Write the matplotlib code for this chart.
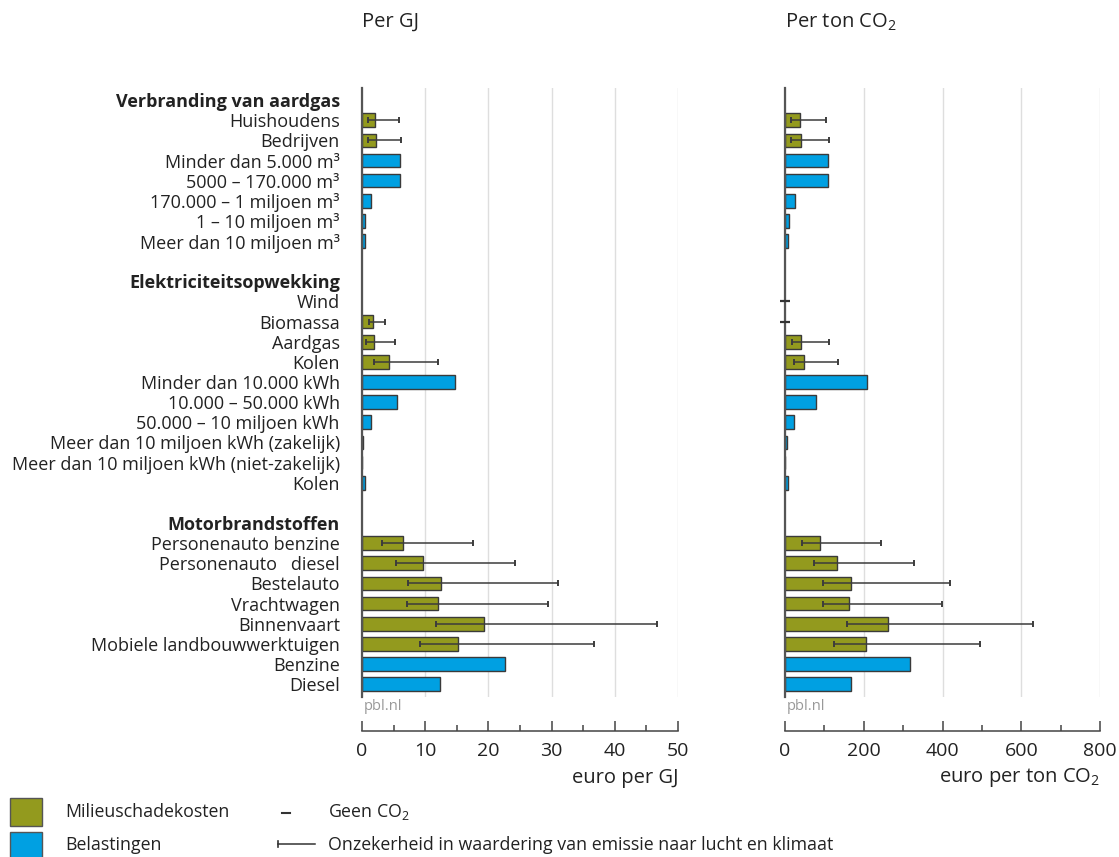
import numpy as np
import matplotlib.pyplot as plt
from matplotlib.patches import Rectangle
from matplotlib.ticker import MultipleLocator

plt.rcParams['font.family'] = ['Open Sans', 'DejaVu Sans']
plt.rcParams['mathtext.fontset'] = 'custom'
plt.rcParams['mathtext.rm'] = 'Open Sans'

_ = np.nan

rows = ['Verbranding van aardgas', 'Huishoudens', 'Bedrijven',
        'Minder dan 5.000 m³', '5000 – 170.000 m³', '170.000 – 1 miljoen m³',
        '1 – 10 miljoen m³', 'Meer dan 10 miljoen m³', '',
        'Elektriciteitsopwekking', 'Wind', 'Biomassa', 'Aardgas', 'Kolen',
        'Minder dan 10.000 kWh', '10.000 – 50.000 kWh', '50.000 – 10 miljoen kWh',
        'Meer dan 10 miljoen kWh (zakelijk)', 'Meer dan 10 miljoen kWh (niet-zakelijk)',
        'Kolen', '',
        'Motorbrandstoffen', 'Personenauto benzine', 'Personenauto   diesel',
        'Bestelauto', 'Vrachtwagen', 'Binnenvaart', 'Mobiele landbouwwerktuigen',
        'Benzine', 'Diesel']
headers = ['Verbranding van aardgas', 'Elektriciteitsopwekking', 'Motorbrandstoffen']

# euro per GJ
schade_gj = [_, 2.0, 2.2, _, _, _, _, _, _,
             _, _, 1.7, 1.9, 4.3, _, _, _, _, _, _, _,
             _, 6.45, 9.65, 12.45, 12.1, 19.35, 15.2, _, _]
schade_gj_laag = [_, 0.95, 0.95, _, _, _, _, _, _,
                  _, _, 1.1, 0.6, 1.85, _, _, _, _, _, _, _,
                  _, 3.1, 5.4, 7.2, 7.05, 11.7, 9.2, _, _]
schade_gj_hoog = [_, 5.85, 6.2, _, _, _, _, _, _,
                  _, _, 3.6, 5.3, 12.0, _, _, _, _, _, _, _,
                  _, 17.6, 24.2, 31.0, 29.5, 46.6, 36.7, _, _]
belasting_gj = [_, _, _, 6.0, 6.0, 1.4, 0.55, 0.4, _,
                _, _, _, _, _, 14.7, 5.5, 1.4, 0.15, 0.05, 0.5, _,
                _, _, _, _, _, _, _, 22.7, 12.3]

# euro per ton CO2
schade_co2 = [_, 37, 40, _, _, _, _, _, _,
              _, _, _, 40, 48, _, _, _, _, _, _, _,
              _, 90, 131, 168, 163, 262, 206, _, _]
schade_co2_laag = [_, 15, 16, _, _, _, _, _, _,
                   _, _, _, 17, 22, _, _, _, _, _, _, _,
                   _, 44, 74, 97, 97, 158, 124, _, _]
schade_co2_hoog = [_, 105, 112, _, _, _, _, _, _,
                   _, _, _, 112, 134, _, _, _, _, _, _, _,
                   _, 244, 327, 419, 399, 630, 496, _, _]
belasting_co2 = [_, _, _, 109, 109, 26, 10, 8, _,
                 _, _, _, _, _, 208, 78, 22, 4, 1, 7, _,
                 _, _, _, _, _, _, _, 317, 168]
geen_co2 = ['Wind', 'Biomassa']

GREEN = '#939a1e'
BLUE = '#00a0e2'
EDGE = '#3a3a3a'
TXT = '#222222'
FS = 13

fig = plt.figure(figsize=(11.19, 8.57), dpi=100)
W, H = 1119, 857


def px_axes(x0, x1, y0, y1):
    return fig.add_axes([x0 / W, 1 - y1 / H, (x1 - x0) / W, (y1 - y0) / H])


def draw_panel(ax, schade, laag, hoog, belasting, xmax, step, unit):
    y = np.arange(len(rows))
    schade = np.array(schade, float)
    belasting = np.array(belasting, float)
    laag = np.array(laag, float)
    hoog = np.array(hoog, float)

    ax.barh(y, schade, height=0.68, color=GREEN, edgecolor=EDGE, linewidth=1, zorder=2)
    ax.barh(y, belasting, height=0.68, color=BLUE, edgecolor=EDGE, linewidth=1, zorder=2)
    ok = ~np.isnan(schade)
    ax.errorbar(schade[ok], y[ok], xerr=[schade[ok] - laag[ok], hoog[ok] - schade[ok]],
                fmt='none', ecolor='#3c3c3c', elinewidth=1.1, capsize=2.2,
                capthick=1.4, zorder=3)

    ax.set_xlim(0, xmax)
    ax.set_ylim(len(rows) - 0.36, -0.6)
    ax.xaxis.set_major_locator(MultipleLocator(step))
    ax.xaxis.set_minor_locator(MultipleLocator(step / 2))
    ax.grid(axis='x', color='#dedede', linewidth=1)
    ax.set_axisbelow(True)

    for s in ['top', 'right']:
        ax.spines[s].set_visible(False)
    ax.spines['left'].set_color('#555555')
    ax.spines['left'].set_linewidth(1.6)
    ax.spines['bottom'].set_position(('outward', 24.5))
    ax.spines['bottom'].set_color('#444444')
    ax.spines['bottom'].set_linewidth(1.1)
    ax.tick_params(axis='x', which='major', direction='in', length=7.5, width=1.1,
                   color='#444444', labelsize=14, pad=8, labelcolor=TXT)
    ax.tick_params(axis='x', which='minor', direction='in', length=4, width=1.1,
                   color='#444444')
    ax.tick_params(axis='y', length=0)

    ax.text(0.005, -0.015, 'pbl.nl', transform=ax.transAxes, ha='left', va='center',
            fontsize=10.5, color='#999999')
    ax.text(1, -0.133, unit, transform=ax.transAxes, ha='right', va='center',
            fontsize=14.5, color=TXT)


ax1 = px_axes(362, 678, 88, 697)
draw_panel(ax1, schade_gj, schade_gj_laag, schade_gj_hoog, belasting_gj,
           50, 10, 'euro per GJ')
ax1.set_yticks(np.arange(len(rows)))
ax1.set_yticklabels(rows, fontsize=FS, color=TXT)
ax1.tick_params(axis='y', pad=16)
for lab in ax1.get_yticklabels():
    if lab.get_text() in headers:
        lab.set_fontweight('bold')

ax2 = px_axes(785, 1100, 88, 697)
draw_panel(ax2, schade_co2, schade_co2_laag, schade_co2_hoog, belasting_co2,
           800, 200, r'euro per ton CO$_2$')
ax2.set_yticks([])
for name in geen_co2:
    ax2.plot([0], [rows.index(name)], marker='_', ms=7, mew=1.6, color='#333333',
             clip_on=False, zorder=4)

fig.text(362 / W, 1 - 22 / H, 'Per GJ', ha='left', va='center', fontsize=14.5, color=TXT)
fig.text(785 / W, 1 - 22 / H, r'Per ton CO$_2$', ha='left', va='center', fontsize=14.5,
         color=TXT)

# legend drawn in pixel space along the bottom
leg = fig.add_axes([0, 0, 1, 1], zorder=-1)
leg.set_xlim(0, W)
leg.set_ylim(H, 0)
leg.axis('off')
leg.add_patch(Rectangle((10, 798), 32, 28, facecolor=GREEN, edgecolor='#555555', lw=1))
leg.add_patch(Rectangle((10, 832), 32, 28, facecolor=BLUE, edgecolor='#555555', lw=1))
leg.text(65, 812, 'Milieuschadekosten', va='center', fontsize=12.8, color=TXT)
leg.text(65, 845, 'Belastingen', va='center', fontsize=12.8, color=TXT)
leg.plot([282, 290], [813, 813], color='#333333', lw=1.5)
leg.text(328, 812, r'Geen CO$_2$', va='center', fontsize=12.8, color=TXT)
leg.plot([278, 315], [844, 844], color='#333333', lw=1.1)
leg.plot([278, 278], [841, 847], color='#333333', lw=1.2)
leg.text(328, 845, 'Onzekerheid in waardering van emissie naar lucht en klimaat',
         va='center', fontsize=12.8, color=TXT)

fig.savefig('out.png', dpi=100)
